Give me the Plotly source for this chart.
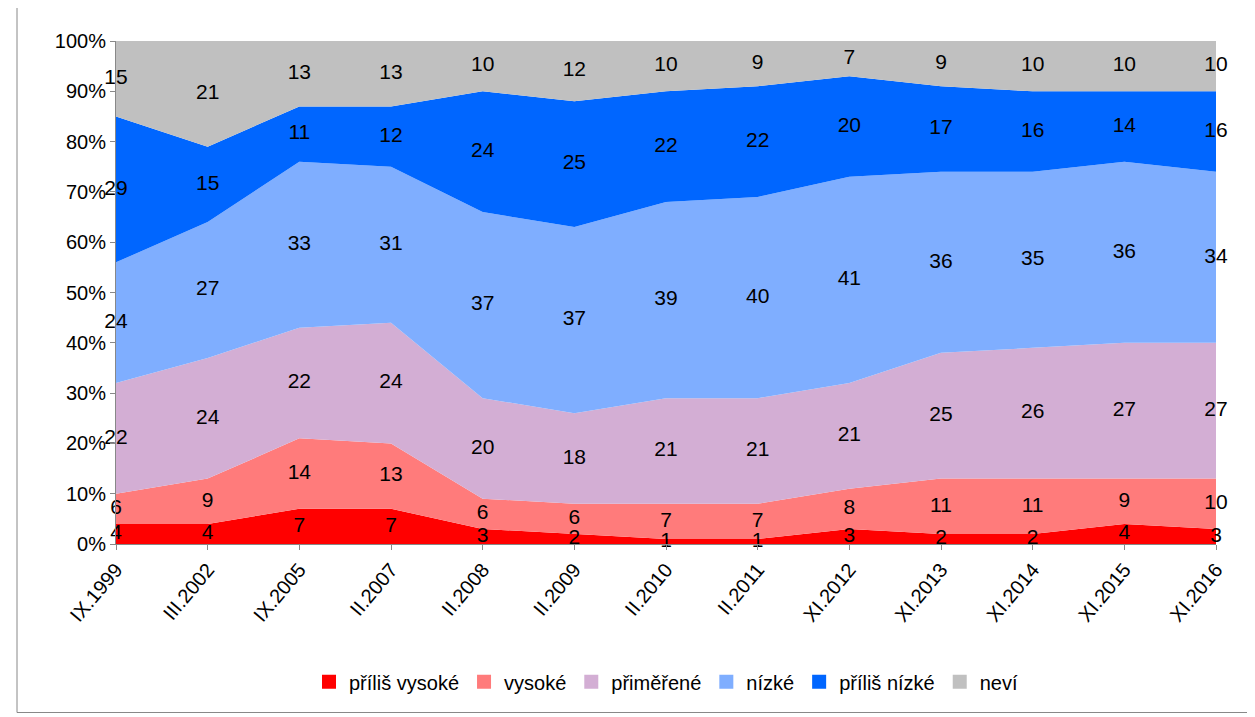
import plotly.graph_objects as go

categories = ["IX.1999","III.2002","IX.2005","II.2007","II.2008","II.2009","II.2010","II.2011","XI.2012","XI.2013","XI.2014","XI.2015","XI.2016"]
names = ["příliš vysoké","vysoké","přiměřené","nízké","příliš nízké","neví"]
prilis_vysoke = [4,4,7,7,3,2,1,1,3,2,2,4,3]
vysoke = [6,9,14,13,6,6,7,7,8,11,11,9,10]
primerene = [22,24,22,24,20,18,21,21,21,25,26,27,27]
nizke = [24,27,33,31,37,37,39,40,41,36,35,36,34]
prilis_nizke = [29,15,11,12,24,25,22,22,20,17,16,14,16]
nevi = [15,21,13,13,10,12,10,9,7,9,10,10,10]
series = [prilis_vysoke, vysoke, primerene, nizke, prilis_nizke, nevi]
colors = ["#FF0000","#FF7B7B","#D3AED4","#7FAEFF","#0066FF","#C0C0C0"]

fig = go.Figure()
xs = list(range(len(categories)))
base = [0]*len(categories)
for name, vals, c in zip(names, series, colors):
    top = [b+v for b, v in zip(base, vals)]
    fig.add_trace(go.Scatter(x=xs, y=top, mode="lines", line=dict(width=0, color=c),
                             fill="tonexty" if name != names[0] else "tozeroy",
                             fillcolor=c, name=name, showlegend=False, hoverinfo="skip"))
    base = top
for name, c in zip(names, colors):
    fig.add_trace(go.Scatter(x=[None], y=[None], mode="markers",
                             marker=dict(symbol="square", size=14, color=c), name=name))
base = [0]*len(categories)
for vals in series:
    mids = [b+v/2 for b, v in zip(base, vals)]
    fig.add_trace(go.Scatter(x=xs, y=mids, mode="text", text=[str(v) for v in vals],
                             textfont=dict(size=21, color="black", family="Liberation Sans"),
                             showlegend=False, hoverinfo="skip", cliponaxis=False))
    base = [b+v for b, v in zip(base, vals)]

fig.update_layout(
    width=1255, height=717, paper_bgcolor="white", plot_bgcolor="white",
    margin=dict(l=108, r=47, t=33, b=181),
    font=dict(family="Liberation Sans", size=20, color="black"),
    xaxis=dict(tickmode="array", tickvals=xs, ticktext=categories, range=[0, 12],
               tickangle=-50, showgrid=False, zeroline=False, showline=True, linecolor="#888",
               ticks="outside", ticklen=5, tickcolor="#888", automargin=False),
    yaxis=dict(range=[0, 100], tickvals=list(range(0, 101, 10)),
               ticktext=[f"{v}%" for v in range(0, 101, 10)], showgrid=False, zeroline=False,
               showline=True, linecolor="#888", ticks="outside", ticklen=5, tickcolor="#888",
               automargin=False),
    legend=dict(orientation="h", x=0.5, xanchor="center", y=-0.235, yanchor="top",
                font=dict(size=20), traceorder="normal"),
    shapes=[dict(type="rect", xref="paper", yref="paper", x0=-0.09, x1=1.032, y0=-0.335, y1=1.07,
                 line=dict(color="#888", width=1))],
)
fig.write_html("out.html")
